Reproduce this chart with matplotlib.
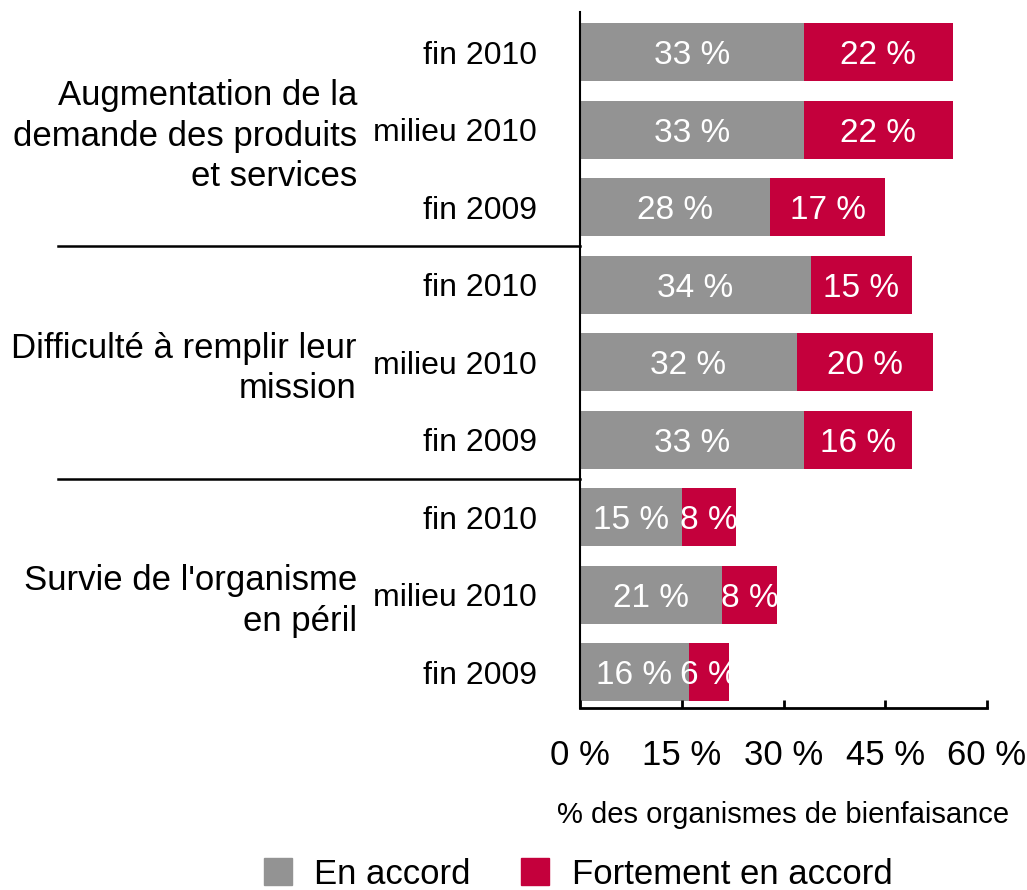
import matplotlib.pyplot as plt
import matplotlib.transforms as mtransforms
from matplotlib.patches import Patch
from matplotlib.lines import Line2D

plt.rcParams["font.family"] = ["Liberation Sans", "DejaVu Sans"]

groups = [
    "Augmentation de la\ndemande des produits\net services",
    "Difficulté à remplir leur\nmission",
    "Survie de l'organisme\nen péril",
]
periods = ["fin 2010", "milieu 2010", "fin 2009"]
en_accord = [33, 33, 28, 34, 32, 33, 15, 21, 16]
fortement = [22, 22, 17, 15, 20, 16, 8, 8, 6]
xticks = [0, 15, 30, 45, 60]
xtick_labels = ["0 %", "15 %", "30 %", "45 %", "60 %"]

GRAY = "#939393"
RED = "#C4003C"
W, H = 1027, 890

fig = plt.figure(figsize=(W / 100, H / 100), dpi=100)
ax = fig.add_axes([580 / W, 1 - 708 / H, (987 - 580) / W, (708 - 12) / H])

y = list(range(len(en_accord)))
ax.barh(y, en_accord, height=0.75, color=GRAY)
ax.barh(y, fortement, left=en_accord, height=0.75, color=RED)

# text sits a touch below bar centre in the original
lbl_tr = mtransforms.offset_copy(ax.transData, fig=fig, y=-2.5, units="points")
for i in y:
    ax.text(en_accord[i] / 2, i, f"{en_accord[i]} %", color="white",
            ha="center", va="center", fontsize=24, transform=lbl_tr)
    ax.text(en_accord[i] + fortement[i] / 2, i, f"{fortement[i]} %",
            color="white", ha="center", va="center", fontsize=24,
            transform=lbl_tr)

ax.set_xlim(0, 60)
ax.set_ylim(8.46, -0.52)

for s in ["top", "right"]:
    ax.spines[s].set_visible(False)
ax.spines["left"].set_linewidth(1.5)
ax.spines["bottom"].set_linewidth(2)

ax.set_xticks(xticks)
ax.set_xticklabels(xtick_labels, fontsize=25)
ax.tick_params(axis="x", direction="in", length=6, width=2, pad=22)
ax.set_yticks([])
ax.set_xlabel("% des organismes de bienfaisance", fontsize=21, labelpad=21)

# category labels and group labels
tr = mtransforms.blended_transform_factory(ax.transAxes, ax.transData)
cat_tr = mtransforms.offset_copy(tr, fig=fig, y=-2.5, units="points")
grp_tr = mtransforms.offset_copy(tr, fig=fig, y=-4.5, units="points")
for gi, g in enumerate(groups):
    for pi, p in enumerate(periods):
        ax.text(-0.106, gi * 3 + pi, p, transform=cat_tr, ha="right",
                va="center", fontsize=23)
    ax.text(-0.548, gi * 3 + 1, g, transform=grp_tr, ha="right", va="center",
            fontsize=25, linespacing=1.29)

# separator lines between groups
for yy in [2.5, 5.5]:
    ax.add_line(Line2D([(58 - 580) / 407, 0], [yy, yy], transform=tr,
                       color="black", lw=1.8, clip_on=False))

handles = [Patch(color=GRAY, label="En accord"),
           Patch(color=RED, label="Fortement en accord")]
fig.legend(handles=handles, loc="center", bbox_to_anchor=(0.563, 1 - 874 / H),
           ncol=2, frameon=False, fontsize=25, handlelength=0.8,
           handleheight=0.8, handletextpad=0.65, columnspacing=1.45)

fig.savefig("out.png", dpi=100)
